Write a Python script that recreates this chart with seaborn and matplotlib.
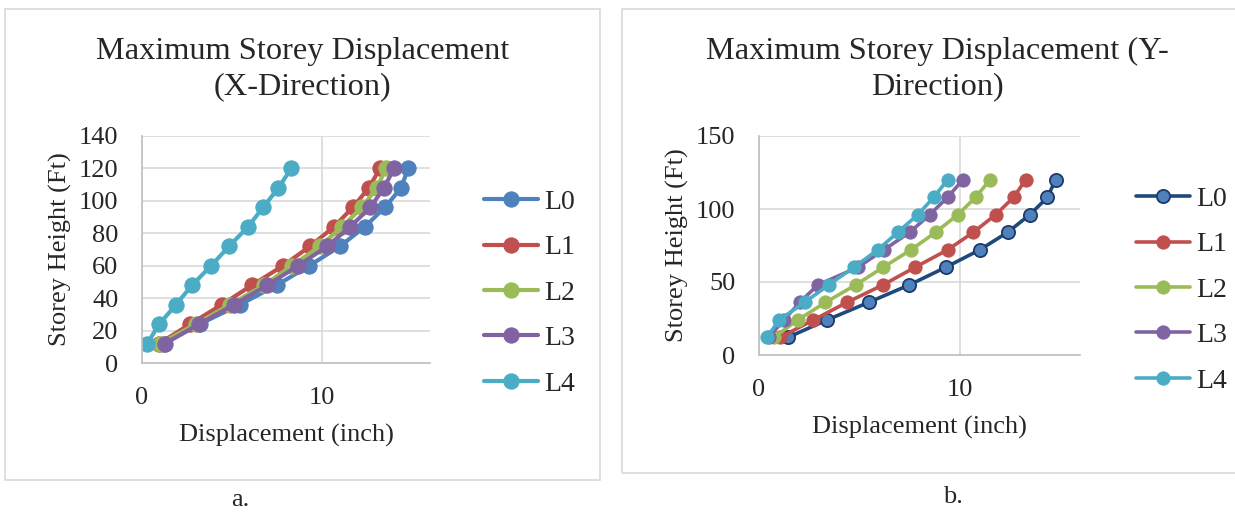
import numpy as np
import pandas as pd
import matplotlib
matplotlib.use("Agg")
import matplotlib.pyplot as plt
from matplotlib.patches import Rectangle
import seaborn as sns

# storey heights (ft)
heights = [12, 24, 36, 48, 60, 72, 84, 96, 108, 120]
series = ["L0", "L1", "L2", "L3", "L4"]

# X-direction displacement (inch)
x_L0 = [1.22, 3.20, 5.44, 7.49, 9.29, 11.00, 12.38, 13.49, 14.40, 14.78]
x_L1 = [0.96, 2.67, 4.44, 6.11, 7.84, 9.33, 10.67, 11.71, 12.60, 13.22]
x_L2 = [1.00, 3.00, 4.89, 6.78, 8.33, 9.89, 11.11, 12.22, 13.04, 13.56]
x_L3 = [1.27, 3.18, 5.11, 6.96, 8.67, 10.29, 11.56, 12.69, 13.44, 14.00]
x_L4 = [0.29, 0.96, 1.89, 2.78, 3.84, 4.84, 5.89, 6.73, 7.58, 8.29]

# Y-direction displacement (inch)
y_L0 = [1.43, 3.39, 5.46, 7.49, 9.30, 11.00, 12.39, 13.49, 14.38, 14.78]
y_L1 = [1.04, 2.71, 4.38, 6.18, 7.77, 9.40, 10.68, 11.79, 12.69, 13.29]
y_L2 = [0.74, 1.93, 3.31, 4.82, 6.18, 7.57, 8.80, 9.90, 10.80, 11.51]
y_L3 = [0.48, 1.24, 2.03, 2.93, 4.92, 6.22, 7.51, 8.50, 9.40, 10.16]
y_L4 = [0.40, 1.00, 2.27, 3.47, 4.72, 5.92, 6.91, 7.91, 8.71, 9.40]

colors = {"L0": "#4F81BD", "L1": "#C0504D", "L2": "#9BBB59",
          "L3": "#8064A2", "L4": "#4BACC6"}

def to_long(vals):
    rows = []
    for name, v in zip(series, vals):
        for h, d in zip(heights, v):
            rows.append({"Level": name, "Displacement": d, "Height": h})
    return pd.DataFrame(rows)

df_x = to_long([x_L0, x_L1, x_L2, x_L3, x_L4])
df_y = to_long([y_L0, y_L1, y_L2, y_L3, y_L4])

sns.set_theme(style="whitegrid")
plt.rcParams["font.family"] = ["Liberation Serif", "DejaVu Serif"]
plt.rcParams["axes.edgecolor"] = "#BFBFBF"
plt.rcParams["grid.color"] = "#D9D9D9"

W, H = 1235, 512
fig = plt.figure(figsize=(12.35, 5.12), dpi=100)

# panel borders
fig.add_artist(Rectangle((5 / W, 1 - 480 / H), 595 / W, 471 / H,
                         transform=fig.transFigure, fill=False,
                         edgecolor="#D9D9D9", linewidth=1.2))
fig.add_artist(Rectangle((622 / W, 1 - 473 / H), 640 / W, 464 / H,
                         transform=fig.transFigure, fill=False,
                         edgecolor="#D9D9D9", linewidth=1.2, clip_on=False))

ax1 = fig.add_axes([142 / W, 1 - 363 / H, 288 / W, 227 / H])
ax2 = fig.add_axes([759 / W, 1 - 355 / H, 321 / W, 219 / H])

# left: X direction
for name in series:
    sub = df_x[df_x["Level"] == name]
    sns.lineplot(data=sub, x="Displacement", y="Height", ax=ax1, sort=False,
                 color=colors[name], marker="o", markersize=11,
                 markeredgecolor=colors[name], linewidth=3, label=name)

# right: Y direction
for name in series:
    sub = df_y[df_y["Level"] == name]
    if name == "L0":
        sns.lineplot(data=sub, x="Displacement", y="Height", ax=ax2, sort=False,
                     color="#1F497D", marker="o", markersize=9.5,
                     markerfacecolor="#4F81BD", markeredgecolor="#1F3A68",
                     markeredgewidth=1.3, linewidth=2.6, label=name)
    else:
        sns.lineplot(data=sub, x="Displacement", y="Height", ax=ax2, sort=False,
                     color=colors[name], marker="o", markersize=9.5,
                     markeredgecolor=colors[name], linewidth=2.6, label=name)

legend_pos = {ax1: (484 / W, 1 - 293 / H), ax2: (1136 / W, 1 - 290 / H)}

for ax, ymax, ystep in [(ax1, 140, 20), (ax2, 150, 50)]:
    ax.set_xlim(0, 16)
    ax.set_ylim(0, ymax)
    ax.set_xticks([0, 10])
    ax.set_yticks(np.arange(0, ymax + 1, ystep))
    ax.tick_params(axis="both", length=0, labelsize=19, pad=17)
    ax.grid(True, color="#D9D9D9", linewidth=1.2)
    for s in ["top", "right"]:
        ax.spines[s].set_visible(False)
    for s in ["left", "bottom"]:
        ax.spines[s].set_color("#BFBFBF")
        ax.spines[s].set_linewidth(1.2)
    ax.set_xlabel("Displacement (inch)", fontsize=19, labelpad=11)
    ax.set_ylabel("Storey Height (Ft)", fontsize=19, labelpad=5)
    ax.legend(loc="center left", bbox_to_anchor=legend_pos[ax],
              bbox_transform=fig.transFigure, frameon=False,
              fontsize=20, handlelength=1.95, handletextpad=0.2,
              labelspacing=0.72, borderpad=0, borderaxespad=0)

fig.text(0.245, 1 - 69 / H, "Maximum Storey Displacement\n(X-Direction)",
         ha="center", va="center", fontsize=23.3, linespacing=1.3)
fig.text(0.759, 1 - 69 / H, "Maximum Storey Displacement (Y-\nDirection)",
         ha="center", va="center", fontsize=23.3, linespacing=1.3)

fig.text(240 / W, 1 - 500 / H, "a.", ha="center", va="center", fontsize=19)
fig.text(953 / W, 1 - 497 / H, "b.", ha="center", va="center", fontsize=19)

plt.savefig("out.png", dpi=100)
